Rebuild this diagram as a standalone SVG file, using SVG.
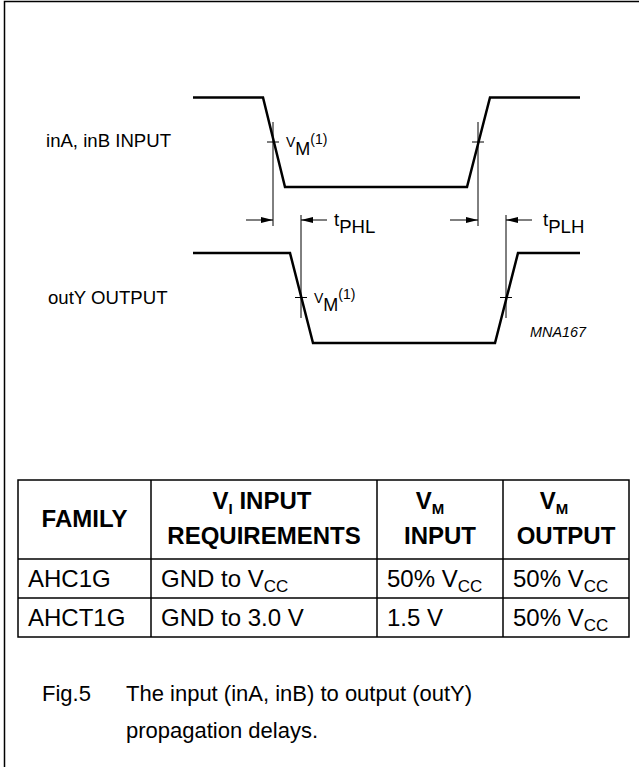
<svg xmlns="http://www.w3.org/2000/svg" width="639" height="767" viewBox="0 0 639 767">
<defs>
<style>
text{font-family:"Liberation Sans",Arial,sans-serif;fill:#000}
.wave{fill:none;stroke:#000;stroke-width:2.5;stroke-linejoin:miter}
.thin{fill:none;stroke:#000;stroke-width:1}
.lbl{font-size:18.6px}
.sm{font-size:14px}
.hd{font-size:24px;font-weight:bold}
.bd{font-size:24px}
.cap{font-size:22px}
.grid{fill:none;stroke:#000;stroke-width:1.5}
</style>
<marker id="ah" markerUnits="userSpaceOnUse" markerWidth="13" markerHeight="7" refX="12" refY="3" orient="auto">
<path d="M0,0 L12,3 L0,6 z" fill="#000"/>
</marker>
</defs>
<rect width="639" height="767" fill="#fff"/>
<g id="frame"><path d="M4.5,767 V1.5 H639" class="grid" stroke-width="1.8"/></g>

<g id="input-wave">
<polyline class="wave" points="193,97.5 263,97.5 285,187 467,187 490,97.5 580,97.5"/>
<line class="thin" x1="267" y1="142" x2="279" y2="142"/>
<line class="thin" x1="472" y1="142" x2="484" y2="142"/>
<text class="lbl" x="46" y="147">inA, inB INPUT</text>
<text class="sm" x="286" y="147">V<tspan font-size="18" dy="8">M</tspan><tspan font-size="14" dy="-11.5">(1)</tspan></text>
</g>

<g id="output-wave">
<polyline class="wave" points="193,253 290,253 313,343 495,343 518,253 580,253"/>
<line class="thin" x1="295" y1="297.5" x2="307" y2="297.5"/>
<line class="thin" x1="500" y1="297.5" x2="512" y2="297.5"/>
<text class="lbl" x="48" y="304">outY OUTPUT</text>
<text class="sm" x="314" y="302.5">V<tspan font-size="18" dy="8">M</tspan><tspan font-size="14" dy="-11.5">(1)</tspan></text>
<text x="530" y="337" font-size="14.4" font-style="italic">MNA167</text>
</g>

<g id="connectors">
<line class="thin" x1="273" y1="122" x2="273" y2="226"/>
<line class="thin" x1="478" y1="122" x2="478" y2="226"/>
<line class="thin" x1="301" y1="215" x2="301" y2="318"/>
<line class="thin" x1="506" y1="215" x2="506" y2="318"/>
<line class="thin" x1="246" y1="220" x2="273" y2="220" marker-end="url(#ah)"/>
<line class="thin" x1="450" y1="220" x2="478" y2="220" marker-end="url(#ah)"/>
<line class="thin" x1="327" y1="220" x2="301" y2="220" marker-end="url(#ah)"/>
<line class="thin" x1="532" y1="220" x2="506" y2="220" marker-end="url(#ah)"/>
<text class="lbl" x="334" y="226">t<tspan dy="7">PHL</tspan></text>
<text class="lbl" x="543" y="226">t<tspan dy="7">PLH</tspan></text>
</g>

<g id="table">
<rect class="grid" x="18" y="480" width="611" height="157"/>
<line class="grid" x1="18" y1="559" x2="629" y2="559"/>
<line class="grid" x1="18" y1="598" x2="629" y2="598"/>
<line class="grid" x1="151" y1="480" x2="151" y2="637"/>
<line class="grid" x1="377" y1="480" x2="377" y2="637"/>
<line class="grid" x1="503" y1="480" x2="503" y2="637"/>
<text class="hd" x="84.5" y="527" text-anchor="middle">FAMILY</text>
<text class="hd" x="262" y="509" text-anchor="middle">V<tspan font-size="15" dy="5">I</tspan><tspan dy="-5"> INPUT</tspan></text>
<text class="hd" x="264" y="544" text-anchor="middle">REQUIREMENTS</text>
<text class="hd" x="430" y="509" text-anchor="middle">V<tspan font-size="15" dy="5">M</tspan></text>
<text class="hd" x="440" y="544" text-anchor="middle">INPUT</text>
<text class="hd" x="554" y="509" text-anchor="middle">V<tspan font-size="15" dy="5">M</tspan></text>
<text class="hd" x="566" y="544" text-anchor="middle">OUTPUT</text>
<text class="bd" x="28" y="587">AHC1G</text>
<text class="bd" x="161" y="587">GND to V<tspan font-size="17" dy="5">CC</tspan></text>
<text class="bd" x="387" y="587">50% V<tspan font-size="17" dy="5">CC</tspan></text>
<text class="bd" x="513" y="587">50% V<tspan font-size="17" dy="5">CC</tspan></text>
<text class="bd" x="28" y="626">AHCT1G</text>
<text class="bd" x="161" y="626">GND to 3.0 V</text>
<text class="bd" x="387" y="626">1.5 V</text>
<text class="bd" x="513" y="626">50% V<tspan font-size="17" dy="5">CC</tspan></text>
</g>

<g id="caption">
<text class="cap" x="42" y="701">Fig.5</text>
<text class="cap" x="126" y="701">The input (inA, inB) to output (outY)</text>
<text class="cap" x="126" y="738">propagation delays.</text>
</g>
</svg>
